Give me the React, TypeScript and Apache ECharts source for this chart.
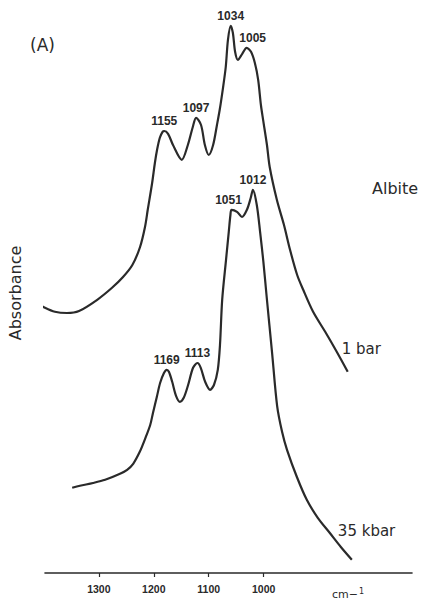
import React, { useEffect, useRef } from "react";
import * as echarts from "echarts";

// Infrared absorbance spectra of albite glass, 1 bar and 35 kbar
const tickValues = [1300, 1200, 1100, 1000];

const wavenumbersOneBar = [
  1387, 1372, 1354, 1332, 1310, 1277, 1250, 1230, 1213, 1199,
  1190, 1185, 1177, 1172, 1168, 1163, 1158, 1155, 1148, 1139,
  1123, 1112, 1103, 1097, 1088, 1081, 1074, 1066, 1059, 1054,
  1048, 1043, 1039, 1034, 1030, 1026, 1021, 1013, 1005, 997,
  990, 984, 979, 975, 968, 963, 950, 937, 926, 913,
  902, 884, 862, 841, 821,
];
const absorbanceOneBar = [
  0.675, 0.663, 0.653, 0.65, 0.655, 0.683, 0.713, 0.74, 0.77, 0.815,
  0.865, 0.908, 0.975, 1.025, 1.058, 1.088, 1.103, 1.105, 1.098, 1.07,
  1.033, 1.07, 1.115, 1.138, 1.12, 1.07, 1.045, 1.07, 1.12, 1.158,
  1.213, 1.265, 1.333, 1.368, 1.35, 1.303, 1.283, 1.298, 1.313, 1.303,
  1.275, 1.233, 1.17, 1.133, 1.07, 1.015, 0.933, 0.87, 0.808, 0.745,
  0.708, 0.653, 0.603, 0.553, 0.503,
];
const peaksOneBar = [1155, 1097, 1034, 1005];

const wavenumbers35kbar = [
  1341, 1327, 1303, 1281, 1254, 1241, 1230, 1218, 1209, 1199,
  1194, 1187, 1181, 1174, 1169, 1165, 1159, 1152, 1145, 1138,
  1130, 1121, 1113, 1107, 1099, 1090, 1083, 1076, 1072, 1068,
  1061, 1056, 1053, 1051, 1041, 1032, 1023, 1016, 1012, 1005,
  999, 993, 987, 977, 968, 959, 950, 932, 914, 894,
  872, 852, 832,
];
const absorbance35kbar = [
  0.213, 0.218, 0.225, 0.233, 0.248, 0.258, 0.273, 0.303, 0.333, 0.37,
  0.4, 0.44, 0.475, 0.5, 0.508, 0.503, 0.478, 0.443, 0.428, 0.438,
  0.47, 0.513, 0.525, 0.513, 0.478, 0.458, 0.47, 0.508, 0.57, 0.683,
  0.783, 0.853, 0.895, 0.908, 0.903, 0.89, 0.908, 0.938, 0.958, 0.92,
  0.853, 0.778, 0.69, 0.548, 0.418, 0.353, 0.308, 0.24, 0.183, 0.138,
  0.1, 0.065, 0.033,
];
const peaks35kbar = [1169, 1113, 1051, 1012];

const INK = "#2a2a2a";
const PLAIN_FONT = "DejaVu Sans";
const BOLD_FONT = "Liberation Sans";

// small horizontal nudges so neighbouring peak labels don't collide
const labelNudge: Record<number, [number, number]> = {
  1005: [6, 0],
  1051: [-3, 0],
};

function buildSeriesData(
  name: string,
  xs: number[],
  ys: number[],
  peaks: number[],
  nameOffset: [number, number]
) {
  const last = xs.length - 1;
  return xs.map((x, i) => {
    if (peaks.includes(x)) {
      return {
        value: [x, ys[i]],
        label: {
          show: true,
          position: "top",
          distance: 4,
          offset: labelNudge[x] || [0, 0],
          formatter: (p: any) => String(p.value[0]),
          fontFamily: BOLD_FONT,
          fontWeight: "bold",
          fontSize: 12,
          color: INK,
        },
      };
    }
    if (i === last) {
      // trace name written beside the end of the curve
      return {
        value: [x, ys[i]],
        label: {
          show: true,
          position: "inside",
          align: "left",
          verticalAlign: "middle",
          offset: nameOffset,
          formatter: () => name,
          fontFamily: PLAIN_FONT,
          fontSize: 15,
          color: INK,
        },
      };
    }
    return { value: [x, ys[i]] };
  });
}

function spectrumSeries(
  name: string,
  axisIndex: number,
  xs: number[],
  ys: number[],
  peaks: number[],
  nameOffset: [number, number]
) {
  return {
    name,
    type: "line",
    xAxisIndex: axisIndex,
    yAxisIndex: 0,
    data: buildSeriesData(name, xs, ys, peaks, nameOffset),
    smooth: 0.3,
    showSymbol: true,
    showAllSymbol: true,
    symbol: "circle",
    symbolSize: 0,
    itemStyle: { color: INK },
    lineStyle: { color: INK, width: 2.2 },
    label: { show: false },
    emphasis: { disabled: true },
  };
}

export default function App() {
  const ref = useRef<HTMLDivElement>(null);

  useEffect(() => {
    if (!ref.current) return;
    const chart = echarts.init(ref.current, null, { renderer: "svg" });

    const option: any = {
      animation: false,
      backgroundColor: "#ffffff",
      grid: {
        left: 45,
        right: 10,
        top: 13,
        bottom: 30,
        containLabel: false,
        outerBoundsMode: "none",
      },
      xAxis: [
        {
          type: "value",
          inverse: true,
          min: 730,
          max: 1398,
          axisLine: { show: true, onZero: false, lineStyle: { color: INK, width: 1.6 } },
          axisTick: {
            show: true,
            customValues: tickValues,
            length: 4,
            lineStyle: { color: INK, width: 1.2 },
          },
          axisLabel: {
            customValues: tickValues,
            formatter: (v: number) => String(v),
            margin: 10,
            fontFamily: BOLD_FONT,
            fontWeight: "bold",
            fontSize: 10.5,
            color: INK,
          },
          splitLine: { show: false },
        },
        // scales for each trace
        { type: "value", inverse: true, min: 704, max: 1372, show: false },
        { type: "value", inverse: true, min: 722.5, max: 1390.5, show: false },
      ],
      yAxis: {
        type: "value",
        min: 0,
        max: 1.4,
        name: "Absorbance",
        nameLocation: "middle",
        nameGap: 22,
        nameTextStyle: { fontFamily: PLAIN_FONT, fontSize: 16, color: INK },
        axisLine: { show: false, onZero: false },
        axisTick: { show: false },
        axisLabel: { show: false },
        splitLine: { show: false },
      },
      graphic: [
        {
          type: "text",
          x: 30,
          y: 45,
          style: {
            text: "(A)",
            fontFamily: PLAIN_FONT,
            fontSize: 17,
            fill: INK,
            verticalAlign: "middle",
          },
        },
        {
          type: "text",
          x: 372,
          y: 188,
          style: {
            text: "Albite",
            fontFamily: PLAIN_FONT,
            fontSize: 16,
            fill: INK,
            verticalAlign: "middle",
          },
        },
        {
          type: "text",
          x: 332,
          y: 594,
          style: {
            text: "{b|cm−}{s|1}",
            verticalAlign: "middle",
            rich: {
              b: { fontFamily: PLAIN_FONT, fontSize: 11, fill: INK },
              s: {
                fontFamily: PLAIN_FONT,
                fontSize: 8,
                fill: INK,
                padding: [0, 0, 6, 1],
              },
            },
          },
        },
      ],
      series: [
        spectrumSeries("1 bar", 1, wavenumbersOneBar, absorbanceOneBar, peaksOneBar, [-6, -23]),
        spectrumSeries("35 kbar", 2, wavenumbers35kbar, absorbance35kbar, peaks35kbar, [-14, -29]),
      ],
    };

    chart.setOption(option);
    return () => chart.dispose();
  }, []);

  return (
    <div
      ref={ref}
      style={{ position: "fixed", left: 0, top: 0, width: 422, height: 603, background: "#fff" }}
    />
  );
}
